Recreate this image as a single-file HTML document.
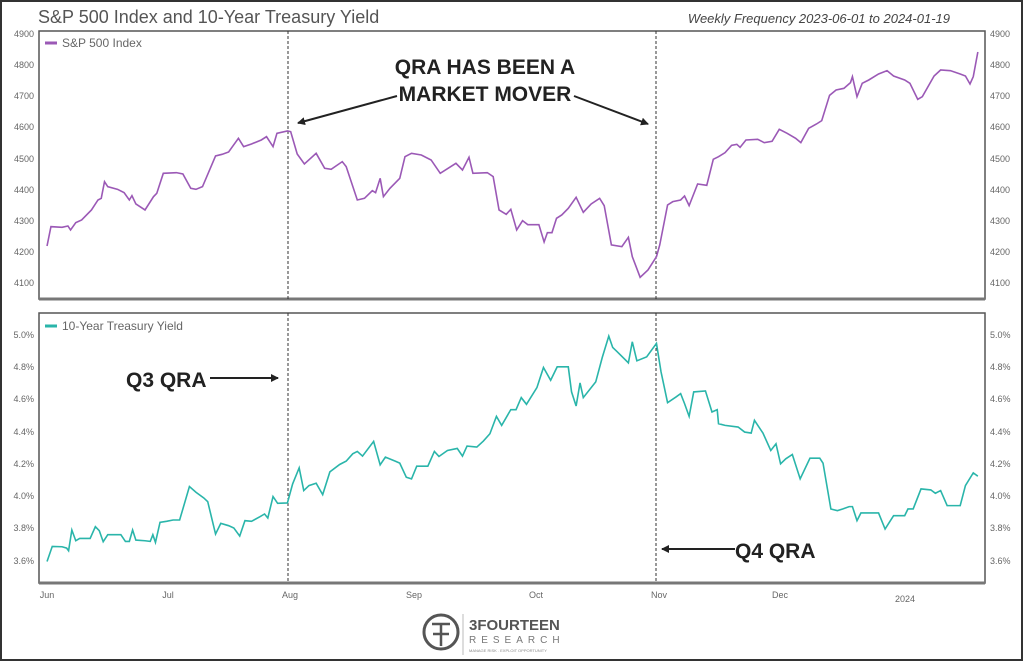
<!DOCTYPE html>
<html><head><style>
body{margin:0;background:#fff;}
svg{display:block;font-family:"Liberation Sans",sans-serif;}
</style></head><body>
<svg width="1024" height="663" viewBox="0 0 1024 663">
<rect x="1" y="1" width="1021" height="659" fill="#fff" stroke="#333" stroke-width="2"/>
<text x="38" y="23" font-size="18" fill="#555" font-family="Liberation Sans Narrow, Liberation Sans, sans-serif">S&amp;P 500 Index and 10-Year Treasury Yield</text>
<text x="950" y="23" font-size="13" fill="#444" font-style="italic" text-anchor="end">Weekly Frequency 2023-06-01 to 2024-01-19</text>
<rect x="39" y="31" width="946" height="268" fill="none" stroke="#555" stroke-width="1.5"/>
<line x1="39" y1="299" x2="985" y2="299" stroke="#777" stroke-width="3"/>
<rect x="39" y="313" width="946" height="270" fill="none" stroke="#555" stroke-width="1.5"/>
<line x1="39" y1="583" x2="985" y2="583" stroke="#777" stroke-width="3"/>
<g stroke="#333" stroke-width="1" stroke-dasharray="3,2">
<line x1="288" y1="31" x2="288" y2="299"/><line x1="656" y1="31" x2="656" y2="299"/>
<line x1="288" y1="313" x2="288" y2="583"/><line x1="656" y1="313" x2="656" y2="583"/>
</g>
<g font-size="9" fill="#666">
<text x="34" y="37" text-anchor="end">4900</text><text x="34" y="68" text-anchor="end">4800</text><text x="34" y="99" text-anchor="end">4700</text><text x="34" y="130" text-anchor="end">4600</text><text x="34" y="162" text-anchor="end">4500</text><text x="34" y="193" text-anchor="end">4400</text><text x="34" y="224" text-anchor="end">4300</text><text x="34" y="255" text-anchor="end">4200</text><text x="34" y="286" text-anchor="end">4100</text>
<text x="990" y="37">4900</text><text x="990" y="68">4800</text><text x="990" y="99">4700</text><text x="990" y="130">4600</text><text x="990" y="162">4500</text><text x="990" y="193">4400</text><text x="990" y="224">4300</text><text x="990" y="255">4200</text><text x="990" y="286">4100</text>
<text x="34" y="338" text-anchor="end">5.0%</text><text x="34" y="370" text-anchor="end">4.8%</text><text x="34" y="402" text-anchor="end">4.6%</text><text x="34" y="435" text-anchor="end">4.4%</text><text x="34" y="467" text-anchor="end">4.2%</text><text x="34" y="499" text-anchor="end">4.0%</text><text x="34" y="531" text-anchor="end">3.8%</text><text x="34" y="564" text-anchor="end">3.6%</text>
<text x="990" y="338">5.0%</text><text x="990" y="370">4.8%</text><text x="990" y="402">4.6%</text><text x="990" y="435">4.4%</text><text x="990" y="467">4.2%</text><text x="990" y="499">4.0%</text><text x="990" y="531">3.8%</text><text x="990" y="564">3.6%</text>
<text x="47" y="598" text-anchor="middle">Jun</text><text x="168" y="598" text-anchor="middle">Jul</text><text x="290" y="598" text-anchor="middle">Aug</text><text x="414" y="598" text-anchor="middle">Sep</text><text x="536" y="598" text-anchor="middle">Oct</text><text x="659" y="598" text-anchor="middle">Nov</text><text x="780" y="598" text-anchor="middle">Dec</text><text x="905" y="602" text-anchor="middle">2024</text>
</g>
<line x1="45" y1="43" x2="57" y2="43" stroke="#9b59b6" stroke-width="3"/>
<text x="62" y="47" font-size="12" fill="#666">S&amp;P 500 Index</text>
<line x1="45" y1="326" x2="57" y2="326" stroke="#2ab5aa" stroke-width="3"/>
<text x="62" y="330" font-size="12" fill="#666">10-Year Treasury Yield</text>
<polyline transform="matrix(0.6532,0,0,0.3333,0,0)" vector-effect="non-scaling-stroke" fill="none" stroke="#9b59b6" stroke-width="1.6" points="72,738 78,680 95,682 104,678 108,690 116,668 125,660 140,630 150,600 155,595 160,545 165,560 180,568 190,578 198,600 202,587 208,612 222,630 235,590 240,580 250,520 270,518 280,522 292,565 300,568 310,560 330,468 340,463 350,456 365,415 373,440 385,432 400,420 408,410 418,440 424,400 440,393 445,395 455,462 466,492 484,460 497,505 507,508 524,485 530,500 547,600 558,595 570,572 575,578 582,535 587,590 597,565 612,535 620,470 630,460 645,465 660,480 674,520 698,490 708,510 718,472 724,520 746,518 755,530 764,630 775,643 782,628 791,690 800,662 808,674 825,674 833,726 838,698 845,698 852,655 860,645 870,625 882,592 893,637 905,612 918,595 925,617 936,735 952,740 962,712 968,770 980,832 992,810 1005,770 1010,735 1022,615 1030,605 1042,600 1048,588 1055,617 1068,552 1082,556 1092,478 1100,470 1110,458 1120,436 1128,433 1133,442 1142,420 1160,418 1170,428 1182,424 1193,388 1205,400 1218,415 1226,428 1238,385 1250,372 1258,362 1270,286 1280,270 1292,265 1302,248 1305,230 1312,290 1320,250 1330,240 1345,222 1358,212 1368,228 1385,240 1393,250 1405,298 1412,290 1430,228 1440,210 1455,212 1470,222 1478,228 1485,252 1490,230 1497,156"/>
<polyline transform="matrix(0.6532,0,0,0.3344,0,310)" vector-effect="non-scaling-stroke" fill="none" stroke="#2ab5aa" stroke-width="1.6" points="72,752 80,707 95,708 102,712 105,720 110,658 116,690 122,683 138,683 146,648 152,660 158,693 165,672 180,672 185,672 192,692 198,692 203,658 208,688 222,690 230,692 234,672 238,695 245,635 255,632 265,628 275,628 290,528 300,545 312,562 318,573 330,670 338,638 350,645 358,652 367,676 375,630 385,632 398,618 405,610 410,622 418,558 425,578 440,577 448,520 458,472 465,540 473,525 484,518 494,552 505,484 520,462 530,452 540,430 547,423 555,437 572,393 582,463 590,440 605,452 612,458 622,500 630,505 638,467 655,467 665,423 672,438 685,420 700,414 708,437 715,407 730,410 740,392 750,370 760,318 768,345 782,298 790,298 798,262 806,282 822,232 832,172 843,210 853,170 870,170 875,245 882,287 888,218 893,262 912,215 922,142 932,78 938,112 945,125 962,158 968,95 975,152 990,140 1005,100 1012,185 1022,277 1035,260 1042,250 1048,280 1055,318 1062,245 1080,242 1090,305 1098,298 1100,340 1110,345 1130,350 1140,365 1150,368 1155,330 1168,368 1180,420 1188,400 1195,460 1203,445 1213,432 1225,505 1240,443 1255,443 1260,458 1272,595 1282,600 1290,595 1300,588 1305,588 1312,630 1318,607 1345,607 1355,655 1368,615 1385,615 1390,595 1398,595 1410,535 1425,538 1432,548 1440,540 1450,585 1470,585 1478,525 1490,487 1497,497"/>
<defs><marker id="ah" markerWidth="8" markerHeight="8" refX="7" refY="4" orient="auto" markerUnits="userSpaceOnUse"><path d="M0,0 L8,4 L0,8 z" fill="#222"/></marker></defs>
<g font-family="Liberation Sans Narrow, Liberation Sans, sans-serif" font-weight="bold" fill="#222" font-size="21">
<text x="485" y="74" text-anchor="middle">QRA HAS BEEN A</text>
<text x="485" y="101" text-anchor="middle">MARKET MOVER</text>
<text x="126" y="387">Q3 QRA</text>
<text x="735" y="558">Q4 QRA</text>
</g>
<g stroke="#222" stroke-width="2" marker-end="url(#ah)">
<line x1="397" y1="96" x2="298" y2="123"/>
<line x1="574" y1="96" x2="648" y2="124"/>
<line x1="210" y1="378" x2="278" y2="378"/>
<line x1="735" y1="549" x2="662" y2="549"/>
</g>
<circle cx="441" cy="632" r="17" fill="none" stroke="#555" stroke-width="3"/>
<path d="M432,624 h18 M441,624 v22 M433,634 h16" stroke="#555" stroke-width="2.5" fill="none"/>
<line x1="463" y1="614" x2="463" y2="655" stroke="#bbb" stroke-width="1"/>
<text x="469" y="630" font-size="15" font-weight="bold" fill="#555">3FOURTEEN</text>
<text x="469" y="643" font-size="10" fill="#777" letter-spacing="5">RESEARCH</text>
<text x="469" y="652" font-size="4" fill="#888">MANAGE RISK . EXPLOIT OPPORTUNITY</text>
</svg>
</body></html>
